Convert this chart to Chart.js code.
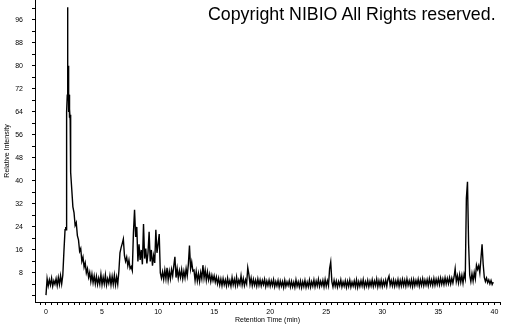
<!DOCTYPE html>
<html>
<head>
<meta charset="utf-8">
<script src="https://cdn.jsdelivr.net/npm/chart.js@4"></script>
<style>
  body { margin: 0; background: #fff; }
  #wrap { position: relative; width: 505px; height: 325px; }
  #copy {
    position: absolute; left: 208px; top: 5px;
    font-family: "Liberation Sans", Arial, sans-serif;
    font-size: 17.8px; line-height: 18px; color: #000; white-space: nowrap;
  }
</style>
</head>
<body>
<div id="wrap">
  <canvas id="tic" width="505" height="325"></canvas>
  <div id="copy">Copyright NIBIO All Rights reserved.</div>
</div>
<script>
const scanStep = 0.1;

// 0.0 - 1.7 min, one scan per 0.1 min
const leadStart = 0;
const leadIntensity = [
  0.3, 6.0, 3.5, 5.6, 3.8, 6.2, 3.4, 5.3, 4.1, 6.0,
  3.6, 6.4, 4.0, 7.0, 4.2, 7.2, 15.5, 23.0
];

// main peak, read at finer spacing
const peakTime = [1.76, 1.80, 1.82, 1.86, 1.90, 1.92, 1.93, 1.94, 1.96, 1.98, 2.00, 2.02, 2.04, 2.06, 2.08, 2.12, 2.16, 2.19, 2.21];
const peakIntensity = [24.0, 23.0, 62.0, 64.0, 70.0, 80.0, 100.4, 78.0, 68.0, 80.0, 66.0, 76.0, 64.0, 70.0, 62.0, 65.0, 61.0, 63.0, 43.0];

// 2.3 - 39.9 min, one scan per 0.1 min
const tailStart = 2.3;
const tailIntensity = [
  37.0, 31.0, 29.0, 24.5, 25.5, 21.0, 19.5,
  15.5, 16.5, 12.0, 13.5, 10.0, 11.5, 8.0, 9.5, 6.5, 8.2,
  5.0, 7.6, 4.6, 7.0, 4.2, 6.8, 4.0, 6.2, 4.1, 7.5,
  3.9, 6.5, 4.2, 7.3, 3.8, 6.0, 4.4, 7.0, 3.9, 6.8,
  4.0, 7.2, 3.8, 6.6, 4.1, 8.5, 15.0, 16.8, 18.2, 19.8,
  14.0, 12.0, 13.5, 10.5, 12.5, 9.5, 10.2, 8.8, 22.0, 30.0,
  20.5, 24.0, 12.0, 18.0, 12.5, 16.0, 11.0, 25.0, 13.0, 16.5,
  11.3, 15.0, 22.3, 12.0, 16.0, 10.5, 14.0, 11.5, 23.0, 15.0,
  18.0, 21.5, 8.0, 6.2, 8.4, 5.8, 9.0, 6.0, 9.8, 5.6,
  8.6, 6.0, 9.2, 7.0, 10.5, 13.6, 6.4, 9.5, 6.2, 8.8,
  6.5, 9.2, 6.0, 8.6, 6.3, 9.5, 7.0, 11.0, 17.5, 9.5,
  11.8, 8.7, 9.0, 5.4, 8.5, 5.2, 7.8, 5.0, 8.2, 6.0,
  10.7, 6.2, 9.0, 5.5, 8.4, 5.6, 7.6, 5.0, 7.2, 5.3,
  7.0, 4.8, 6.6, 4.2, 6.2, 3.8, 5.9, 3.6, 6.0, 3.9,
  5.6, 3.5, 6.2, 3.8, 5.4, 3.4, 6.4, 3.9, 5.8, 3.6,
  6.6, 3.7, 5.5, 4.0, 7.0, 3.8, 6.0, 3.6, 5.6, 4.2,
  9.8, 7.5, 4.0, 6.2, 3.6, 5.8, 3.8, 5.5, 3.4, 5.9,
  3.7, 5.6, 3.5, 5.4, 3.9, 5.8, 3.3, 5.2, 3.6, 5.5,
  3.4, 5.3, 3.6, 5.7, 3.2, 5.0, 3.5, 5.4, 3.1, 5.2,
  3.4, 5.0, 3.0, 5.5, 3.3, 4.9, 3.6, 5.3, 3.1, 5.1,
  3.2, 4.8, 3.0, 5.6, 3.4, 4.9, 3.1, 5.2, 2.9, 5.0,
  3.3, 5.4, 3.0, 4.8, 3.2, 5.5, 3.1, 5.0, 3.4, 5.6,
  3.2, 5.2, 3.5, 5.8, 3.3, 5.1, 3.6, 5.4, 3.2, 5.7,
  3.4, 5.3, 3.6, 9.5, 11.8, 5.0, 3.2, 5.4, 3.4, 5.2,
  3.1, 5.0, 3.5, 5.6, 3.2, 4.9, 3.4, 5.3, 3.0, 5.1,
  3.3, 5.5, 3.1, 4.8, 3.4, 5.2, 3.2, 5.6, 3.0, 5.0,
  3.3, 5.3, 3.5, 5.7, 3.1, 5.0, 3.4, 5.4, 3.2, 5.1,
  3.5, 5.6, 3.3, 5.2, 3.6, 5.9, 3.2, 5.3, 3.4, 5.5,
  3.3, 5.2, 3.6, 5.5, 3.4, 5.8, 6.9, 3.7, 5.4, 3.5,
  5.6, 3.4, 5.3, 3.6, 5.7, 3.3, 5.4, 3.5, 5.8, 3.6,
  5.5, 3.4, 5.9, 3.7, 5.3, 3.5, 5.6, 3.3, 5.7, 3.6,
  5.4, 3.8, 5.8, 3.5, 5.6, 3.7, 6.0, 3.6, 5.5, 3.8,
  5.7, 3.6, 6.0, 3.9, 5.6, 3.7, 6.1, 3.8, 5.8, 4.0,
  6.0, 3.9, 6.2, 4.1, 5.9, 4.0, 6.3, 4.2, 6.1, 4.3,
  6.4, 4.2, 6.2, 4.5, 6.6, 9.5, 5.0, 7.0, 4.6, 7.4,
  4.8, 7.2, 4.5, 7.6, 6.0, 34.0, 39.7, 18.0, 7.2, 5.0,
  7.8, 5.2, 8.2, 6.0, 10.7, 9.2, 10.5, 8.0, 13.0, 18.0,
  11.0, 6.5, 5.0, 6.2, 4.6, 5.6, 4.2, 5.4, 4.0, 4.8
];

const xLabels = [0, 5, 10, 15, 20, 25, 30, 35, 40];
const yLabels = [8, 16, 24, 32, 40, 48, 56, 64, 72, 80, 88, 96];

const scanTime = (start, i) => +(start + i * scanStep).toFixed(2);
const points = [
  ...leadIntensity.map((v, i) => ({ x: scanTime(leadStart, i), y: v })),
  ...peakIntensity.map((v, i) => ({ x: peakTime[i], y: v })),
  ...tailIntensity.map((v, i) => ({ x: scanTime(tailStart, i), y: v }))
];

const tickFont = { family: '"Liberation Sans", Arial, sans-serif', size: 7 };
const isLabel = (list, value) => list.some(l => Math.abs(l - value) < 1e-6);

new Chart(document.getElementById('tic'), {
    type: 'line',
    data: {
        datasets: [{
            data: points,
            borderColor: '#000',
            borderWidth: 1.4,
            pointRadius: 0,
            tension: 0,
            fill: false
        }]
    },
    options: {
        responsive: false,
        devicePixelRatio: 1,
        animation: false,
        layout: { padding: { top: 0, right: 5, bottom: 0, left: 0 } },
        plugins: { legend: { display: false }, tooltip: { enabled: false } },
        scales: {
            x: {
                type: 'linear',
                min: -0.98,
                max: 40.5,
                afterFit: s => { s.height = 23; s.paddingLeft = 0; s.paddingRight = 0; },
                border: { color: '#000', width: 1 },
                grid: { drawOnChartArea: false, tickLength: 3, color: '#000' },
                ticks: {
                    stepSize: 0.5,
                    includeBounds: false,
                    autoSkip: false,
                    maxTicksLimit: 1000,
                    maxRotation: 0,
                    padding: 3,
                    color: '#000',
                    font: tickFont,
                    callback: v => isLabel(xLabels, v) ? String(Math.round(v)) : ''
                },
                title: {
                    display: true,
                    text: 'Retention Time (min)',
                    color: '#000',
                    font: tickFont,
                    padding: { top: 0, bottom: 1 }
                }
            },
            y: {
                min: -2.1,
                max: 102.9,
                afterFit: s => { s.width = 35; s.paddingTop = 0; s.paddingBottom = 0; },
                border: { color: '#000', width: 1 },
                grid: { drawOnChartArea: false, tickLength: 3, color: '#000' },
                ticks: {
                    stepSize: 4,
                    includeBounds: false,
                    autoSkip: false,
                    maxTicksLimit: 1000,
                    padding: 9,
                    color: '#000',
                    font: tickFont,
                    callback: v => isLabel(yLabels, v) ? String(Math.round(v)) : ''
                },
                title: {
                    display: true,
                    text: 'Relative Intensity',
                    color: '#000',
                    font: tickFont,
                    padding: 3
                }
            }
        }
    }
});
</script>
</body>
</html>
